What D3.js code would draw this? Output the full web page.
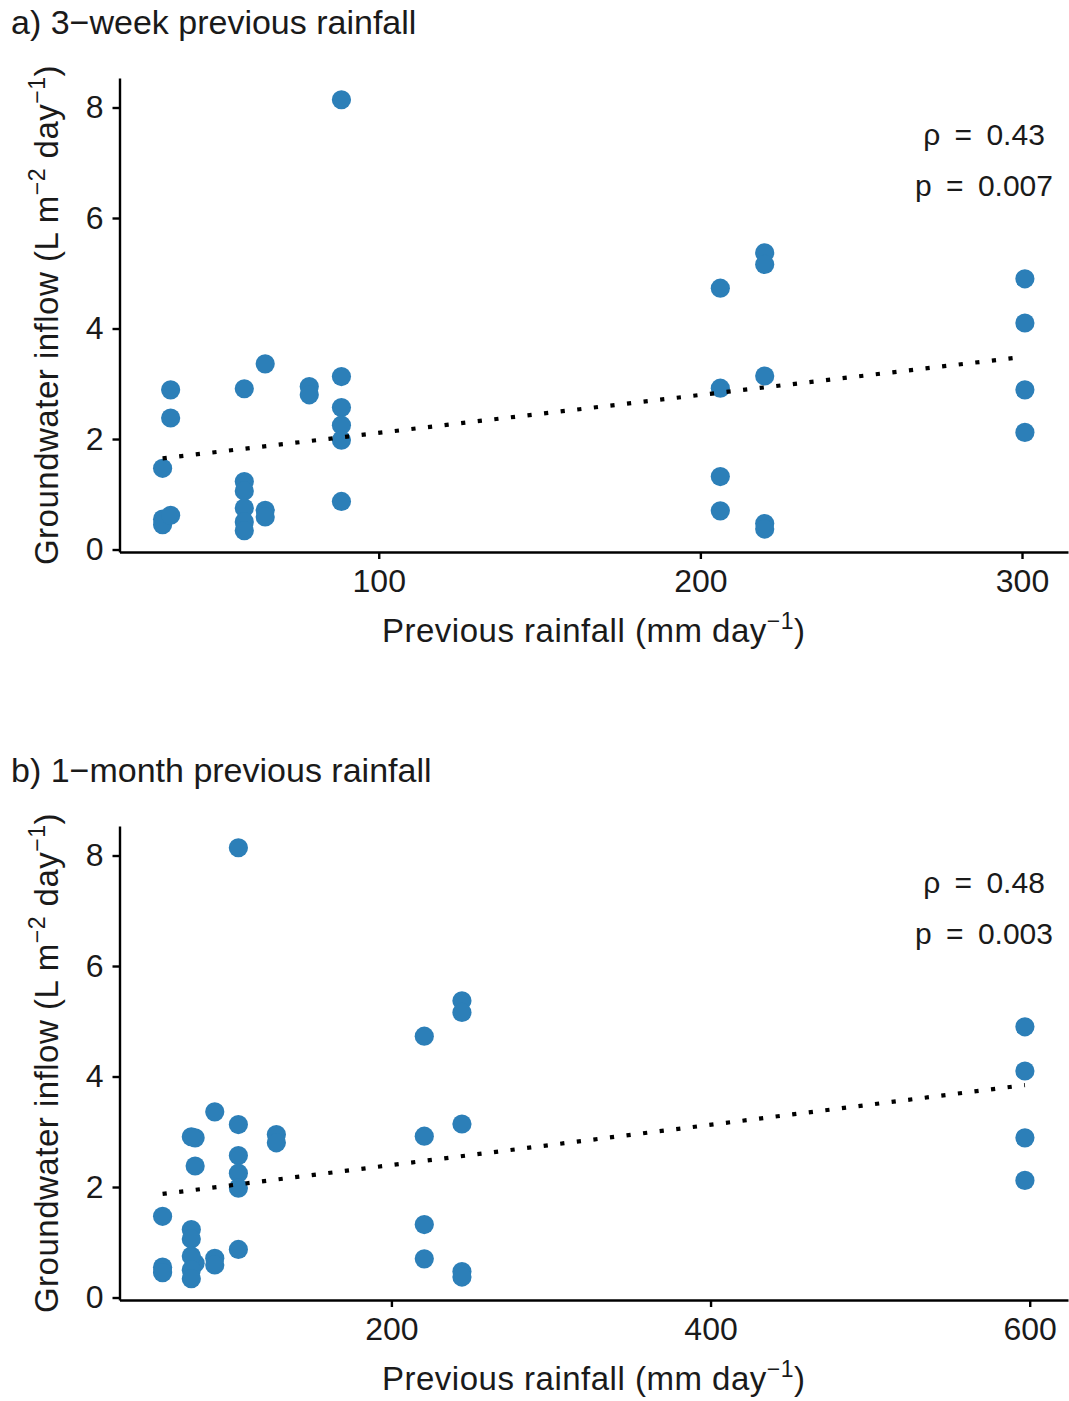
<!DOCTYPE html>
<html><head><meta charset="utf-8">
<script src="https://cdn.jsdelivr.net/npm/d3@7"></script>
<style>
body{margin:0;background:#fff}
svg{display:block}
text{font-family:"Liberation Sans",Arial,Helvetica,sans-serif;fill:#1a1a1a}
</style>
</head><body><svg id="c" width="1069" height="1401"></svg>
<script>
// ---- data ----
const inflow  = [1.47,0.55,0.45, 2.89,2.38,0.62, 2.91,1.23,1.06,0.75,0.50,0.34, 3.36,0.71,0.59, 2.95,2.80, 8.14,3.13,2.57,2.25,1.98,0.87, 4.73,2.92,1.32,0.70, 5.37,5.16,3.14,0.47,0.37, 4.90,4.10,2.89,2.12];
const rain3wk = [32.8,32.8,32.8, 35.3,35.3,35.3, 58.2,58.2,58.2,58.2,58.2,58.2, 64.7,64.7,64.7, 78.4,78.4, 88.4,88.4,88.4,88.4,88.4,88.4, 206.2,206.2,206.2,206.2, 220.0,220.0,220.0,220.0,220.0, 300.9,300.9,300.9,300.9];
const rain1mo = [56.6,56.6,56.6, 77.0,77.0,77.0, 74.6,74.6,74.6,74.6,74.6,74.6, 89.3,89.3,89.3, 127.9,127.9, 104.1,104.1,104.1,104.1,104.1,104.1, 220.6,220.6,220.6,220.6, 244.2,244.2,244.2,244.2,244.2, 597,597,597,597];
const xTicksA = [100,200,300];
const xTicksB = [200,400,600];
const yTicks = [0,2,4,6,8];
const trendAx = [32.8,300.9], trendAy = [1.65,3.49];
const trendBx = [56.6,597],   trendBy = [1.875,3.845];
const titles = ["a) 3\u2212week previous rainfall","b) 1\u2212month previous rainfall"];
const rhoLabels = ["0.43","0.48"];
const pLabels = ["0.007","0.003"];

// ---- drawing ----
const svg = d3.select("#c");
svg.append("rect").attr("width",1069).attr("height",1401).attr("fill","#fff");

const L = 119.5, R = 1068, PT = 78, PB = 552;
const PTS = "#2c7fb8";

function panel(k, xs, xDomain, xTicks, tx, ty){
  const off = k*748;
  const g = svg.append("g").attr("transform",`translate(0,${off})`);
  const x = d3.scaleLinear().domain(xDomain).range([L,R]);
  const y = d3.scaleLinear().domain([-0.045,8.534]).range([PB,PT]);

  // title
  g.append("text").attr("x",11).attr("y",34).attr("font-size",34).text(titles[k]);

  // points
  g.append("g").selectAll("circle").data(inflow.map((v,i)=>[xs[i],v])).join("circle")
    .attr("cx",d=>x(d[0])).attr("cy",d=>y(d[1])).attr("r",9.6).attr("fill",PTS);

  // trend line
  g.append("path")
    .attr("d", d3.line().x(d=>x(d[0])).y(d=>y(d[1]))(tx.map((v,i)=>[v,ty[i]])))
    .attr("fill","none").attr("stroke","#000").attr("stroke-width",4.2)
    .attr("stroke-dasharray","4.2,12.5");

  // axes
  const ax = g.append("g").attr("transform",`translate(0,${PB})`)
    .call(d3.axisBottom(x).tickValues(xTicks).tickSize(7).tickSizeOuter(0).tickPadding(10).tickFormat(d3.format("d")));
  const ay = g.append("g").attr("transform",`translate(${L},0)`)
    .call(d3.axisLeft(y).tickValues(yTicks).tickSize(7).tickSizeOuter(0).tickPadding(9).tickFormat(d3.format("d")));
  [ax,ay].forEach(a=>{
    a.attr("font-size",32).attr("font-family",null);
    a.select(".domain").attr("stroke","#000").attr("stroke-width",2.4);
    a.selectAll(".tick line").attr("stroke","#000").attr("stroke-width",2.4);
    a.selectAll(".tick text").attr("fill","#1a1a1a");
  });

  // x axis title
  const xt = g.append("text").attr("x",(L+R)/2).attr("y",642).attr("text-anchor","middle")
    .attr("font-size",33).attr("letter-spacing",0.5);
  xt.append("tspan").text("Previous rainfall (mm day");
  xt.append("tspan").attr("dy",-13).attr("font-size",23).text("\u22121");
  xt.append("tspan").attr("dy",13).text(")");

  // y axis title
  const yt = g.append("text").attr("transform",`translate(58,${(PT+PB)/2}) rotate(-90)`)
    .attr("text-anchor","middle").attr("font-size",33).attr("letter-spacing",0.5);
  yt.append("tspan").text("Groundwater inflow (L m");
  yt.append("tspan").attr("dy",-13).attr("font-size",23).text("\u22122");
  yt.append("tspan").attr("dy",13).text(" day");
  yt.append("tspan").attr("dy",-13).attr("font-size",23).text("\u22121");
  yt.append("tspan").attr("dy",13).text(")");

  // stats
  g.append("text").attr("x",984).attr("y",145).attr("text-anchor","middle").attr("font-size",30)
    .attr("word-spacing",6).text("\u03c1 = " + rhoLabels[k]);
  g.append("text").attr("x",984).attr("y",196).attr("text-anchor","middle").attr("font-size",30)
    .attr("word-spacing",6).text("p = " + pLabels[k]);
}

panel(0, rain3wk, [19.4,314.3], xTicksA, trendAx, trendAy);
panel(1, rain1mo, [29.6,624.0], xTicksB, trendBx, trendBy);
</script>
</body></html>
